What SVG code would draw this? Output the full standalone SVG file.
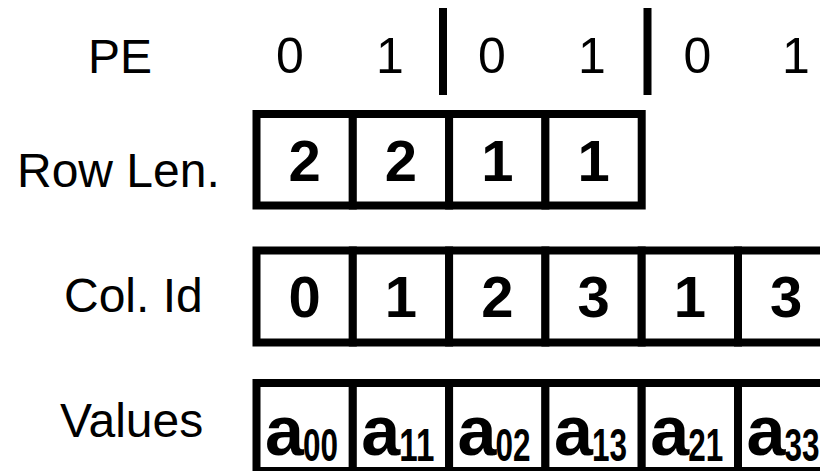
<svg xmlns="http://www.w3.org/2000/svg" width="820" height="471" viewBox="0 0 820 471">
  <style>
    .box { fill: #ffffff; stroke: #000000; stroke-width: 8; }
    .lbl { font-family: "Liberation Sans", Arial, sans-serif; font-size: 48px; fill: #000; }
    .pe { font-family: "Liberation Sans", Arial, sans-serif; font-size: 50px; fill: #000; text-anchor: middle; }
    .num { font-family: "Liberation Sans", Arial, sans-serif; font-weight: bold; font-size: 58px; fill: #000; text-anchor: middle; }
    .a { font-family: "Liberation Sans", Arial, sans-serif; font-weight: bold; font-size: 70px; fill: #000; }
    .sub { font-family: "Liberation Sans", Arial, sans-serif; font-weight: bold; font-size: 47px; fill: #000; }
    .bar { stroke: #000; stroke-width: 8; }
  </style>
  <rect width="820" height="471" fill="#ffffff"/>

  <g id="labels">
    <text class="lbl" x="88" y="72.5">PE</text>
    <text class="lbl" x="17" y="187">Row Len.</text>
    <text class="lbl" x="64" y="311.5">Col. Id</text>
    <text class="lbl" x="60" y="436.5">Values</text>
  </g>

  <g id="pe-row">
    <text class="pe" x="290" y="72.5">0</text>
    <text class="pe" x="390" y="72.5">1</text>
    <text class="pe" x="492" y="72.5">0</text>
    <text class="pe" x="592" y="72.5">1</text>
    <text class="pe" x="697.5" y="72.5">0</text>
    <text class="pe" x="796" y="72.5">1</text>
  </g>

  <g id="separators">
    <line class="bar" x1="443" y1="8" x2="443" y2="95"/>
    <line class="bar" x1="647.5" y1="8" x2="647.5" y2="95"/>
  </g>

  <g id="row-len">
    <rect class="box" x="256.5" y="114" width="96.3" height="91.5"/>
    <rect class="box" x="352.8" y="114" width="96.3" height="91.5"/>
    <rect class="box" x="449.1" y="114" width="96.3" height="91.5"/>
    <rect class="box" x="545.4" y="114" width="96.3" height="91.5"/>
    <text class="num" x="304.6" y="180.5">2</text>
    <text class="num" x="401" y="180.5">2</text>
    <text class="num" x="497.3" y="180.5">1</text>
    <text class="num" x="593.6" y="180.5">1</text>
  </g>

  <g id="col-id">
    <rect class="box" x="256.5" y="250.5" width="96.3" height="92"/>
    <rect class="box" x="352.8" y="250.5" width="96.3" height="92"/>
    <rect class="box" x="449.1" y="250.5" width="96.3" height="92"/>
    <rect class="box" x="545.4" y="250.5" width="96.3" height="92"/>
    <rect class="box" x="641.7" y="250.5" width="96.3" height="92"/>
    <rect class="box" x="738" y="250.5" width="96.3" height="92"/>
    <text class="num" x="304.6" y="317">0</text>
    <text class="num" x="401" y="317">1</text>
    <text class="num" x="497.3" y="317">2</text>
    <text class="num" x="593.6" y="317">3</text>
    <text class="num" x="689.9" y="317">1</text>
    <text class="num" x="786.2" y="317">3</text>
  </g>

  <g id="values">
    <rect class="box" x="256.5" y="383" width="96.3" height="88"/>
    <rect class="box" x="352.8" y="383" width="96.3" height="88"/>
    <rect class="box" x="449.1" y="383" width="96.3" height="88"/>
    <rect class="box" x="545.4" y="383" width="96.3" height="88"/>
    <rect class="box" x="641.7" y="383" width="96.3" height="88"/>
    <rect class="box" x="738" y="383" width="96.3" height="88"/>
    <text class="a" x="265" y="455">a</text><text class="sub" x="303" y="461" textLength="35" lengthAdjust="spacingAndGlyphs">00</text>
    <text class="a" x="361.3" y="455">a</text><text class="sub" x="399.3" y="461" textLength="35" lengthAdjust="spacingAndGlyphs">11</text>
    <text class="a" x="457.6" y="455">a</text><text class="sub" x="495.6" y="461" textLength="35" lengthAdjust="spacingAndGlyphs">02</text>
    <text class="a" x="553.9" y="455">a</text><text class="sub" x="591.9" y="461" textLength="35" lengthAdjust="spacingAndGlyphs">13</text>
    <text class="a" x="650.2" y="455">a</text><text class="sub" x="688.2" y="461" textLength="35" lengthAdjust="spacingAndGlyphs">21</text>
    <text class="a" x="746.5" y="455">a</text><text class="sub" x="784.5" y="461" textLength="35" lengthAdjust="spacingAndGlyphs">33</text>
  </g>
</svg>
